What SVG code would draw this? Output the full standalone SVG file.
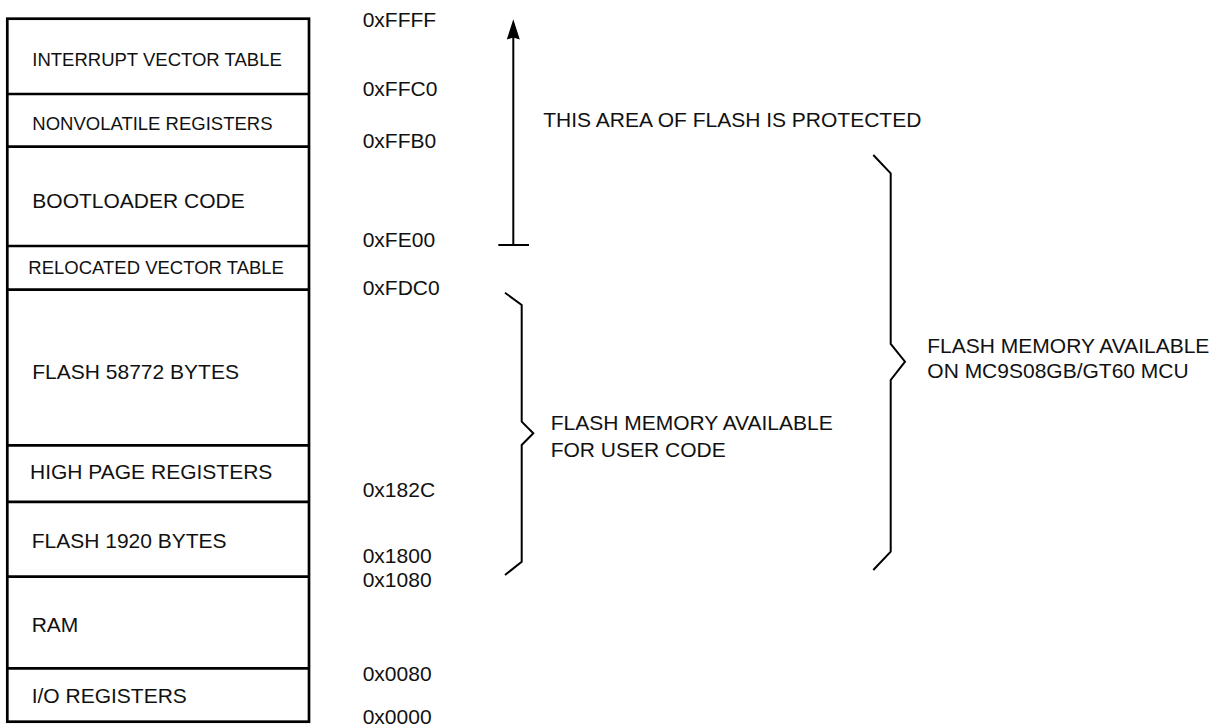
<svg xmlns="http://www.w3.org/2000/svg" width="1226" height="726" viewBox="0 0 1226 726">
<style>
  text { font-family: "Liberation Sans", Arial, sans-serif; fill: #111; }
  .s { font-size: 18.5px; }
  .m { font-size: 21px; }
  .box { fill: none; stroke: #000; stroke-width: 2.7; }
  .div { stroke: #000; stroke-width: 2.7; }
  .ln { fill: none; stroke: #000; stroke-width: 2; }
  .head { fill: #000; stroke: none; }
</style>
<rect width="1226" height="726" fill="#fff"/>
<g id="memory-map">
  <rect class="box" x="7.3" y="18.7" width="301.7" height="703"/>
  <line class="div" x1="7.3" y1="94" x2="309" y2="94"/>
  <line class="div" x1="7.3" y1="146.7" x2="309" y2="146.7"/>
  <line class="div" x1="7.3" y1="246" x2="309" y2="246"/>
  <line class="div" x1="7.3" y1="289.6" x2="309" y2="289.6"/>
  <line class="div" x1="7.3" y1="445.3" x2="309" y2="445.3"/>
  <line class="div" x1="7.3" y1="501.8" x2="309" y2="501.8"/>
  <line class="div" x1="7.3" y1="576.7" x2="309" y2="576.7"/>
  <line class="div" x1="7.3" y1="668.3" x2="309" y2="668.3"/>
</g>
<g id="seg-ivt"><text class="s" x="32.3" y="66.3">INTERRUPT VECTOR TABLE</text></g>
<g id="seg-nvreg"><text class="s" x="32.3" y="129.8">NONVOLATILE REGISTERS</text></g>
<g id="seg-boot"><text class="m" x="32.3" y="208.3">BOOTLOADER CODE</text></g>
<g id="seg-rvt"><text class="s" x="28.3" y="274.3">RELOCATED VECTOR TABLE</text></g>
<g id="seg-flash1"><text class="m" x="32.3" y="378.5">FLASH 58772 BYTES</text></g>
<g id="seg-hpr"><text class="m" x="30" y="478.7">HIGH PAGE REGISTERS</text></g>
<g id="seg-flash2"><text class="m" x="31.7" y="548.3">FLASH 1920 BYTES</text></g>
<g id="seg-ram"><text class="m" x="31.7" y="631.7">RAM</text></g>
<g id="seg-io"><text class="m" x="31.7" y="703.3">I/O REGISTERS</text></g>
<g id="addresses">
  <text class="m" x="362.7" y="26.7">0xFFFF</text>
  <text class="m" x="362.7" y="95.7">0xFFC0</text>
  <text class="m" x="362.7" y="147.7">0xFFB0</text>
  <text class="m" x="362.7" y="246.7">0xFE00</text>
  <text class="m" x="362.7" y="295">0xFDC0</text>
  <text class="m" x="362.7" y="496.5">0x182C</text>
  <text class="m" x="362.7" y="562.5">0x1800</text>
  <text class="m" x="362.7" y="586.5">0x1080</text>
  <text class="m" x="362.7" y="680.5">0x0080</text>
  <text class="m" x="362.7" y="723.5">0x0000</text>
</g>
<g id="connectors">
  <line class="ln" x1="513.3" y1="245" x2="513.3" y2="36"/>
  <path class="head" d="M513.3,19.3 L519.8,39.5 L513.3,37.5 L506.8,39.5 Z"/>
  <line class="ln" x1="498.3" y1="245" x2="529" y2="245"/>
  <polyline class="ln" points="505,292.7 521.7,305 521.7,421.7 533.3,433.3 521.7,445 521.7,561.7 505,575"/>
  <polyline class="ln" points="873.3,155 890.7,173.3 890.7,344 905,361.7 890.7,380 890.7,551.7 873.3,570"/>
</g>
<g id="label-protected"><text class="m" x="543.3" y="126.7">THIS AREA OF FLASH IS PROTECTED</text></g>
<g id="label-user"><text class="m" x="550.7" y="430">FLASH MEMORY AVAILABLE</text><text class="m" x="550.7" y="456.7">FOR USER CODE</text></g>
<g id="label-mcu"><text class="m" x="927.3" y="353.3">FLASH MEMORY AVAILABLE</text><text class="m" x="927.3" y="378.3">ON MC9S08GB/GT60 MCU</text></g>
</svg>
